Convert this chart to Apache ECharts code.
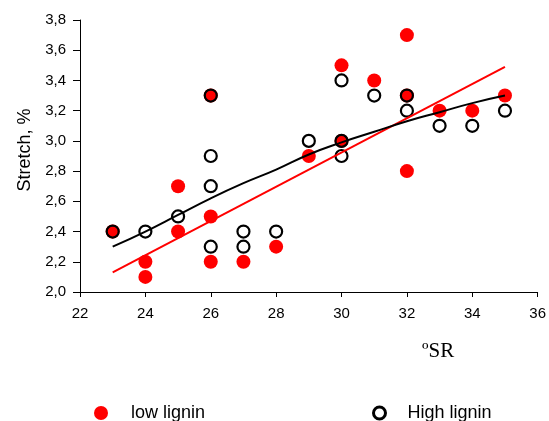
<!DOCTYPE html>
<html><head><meta charset="utf-8">
<script src="https://cdn.jsdelivr.net/npm/echarts@6/dist/echarts.min.js"></script>
<style>html,body{margin:0;padding:0;background:#fff}#c{width:549px;height:421px}</style>
</head><body><div id="c"></div>
<script>
// low lignin points [ºSR, stretch %]
var lowX = [23, 24, 24, 25, 25, 26, 26, 26, 27, 28, 29, 30, 30, 31, 32, 32, 32, 33, 34, 35];
var lowY = [2.4, 2.2, 2.1, 2.7, 2.4, 3.3, 2.5, 2.2, 2.2, 2.3, 2.9, 3.5, 3.0, 3.4, 3.7, 3.3, 2.8, 3.2, 3.2, 3.3];
// high lignin points
var highX = [23, 24, 25, 26, 26, 26, 26, 27, 27, 28, 29, 30, 30, 30, 31, 32, 32, 33, 34, 35];
var highY = [2.4, 2.4, 2.5, 3.3, 2.9, 2.7, 2.3, 2.4, 2.3, 2.4, 3.0, 3.4, 3.0, 2.9, 3.3, 3.3, 3.2, 3.1, 3.1, 3.2];
// trend lines
var lowTrendX = [23, 35];
var lowTrendY = [2.13, 3.49];
var highTrendX = [23, 24, 25, 26, 27, 28, 29, 30, 31, 32, 33, 34, 35];
var highTrendY = [2.30, 2.40, 2.51, 2.62, 2.72, 2.81, 2.91, 2.99, 3.06, 3.13, 3.19, 3.25, 3.30];
// axis ticks
var xMin = 22, xMax = 36, xStep = 2;
var yMin = 2.0, yMax = 3.8, yStep = 0.2;

function zip(a, b) { return a.map(function (v, i) { return [v, b[i]]; }); }

var chart = echarts.init(document.getElementById('c'));
var font = 'Liberation Sans, Arial, sans-serif';
chart.setOption({
  animation: false,
  backgroundColor: '#fff',
  grid: { left: 80, right: 10, top: 20, bottom: 129, containLabel: false },
  xAxis: {
    type: 'value', min: xMin, max: xMax, interval: xStep,
    axisLine: { lineStyle: { color: '#000', width: 1 } },
    axisTick: { show: true, length: 5, lineStyle: { color: '#000' } },
    axisLabel: { color: '#000', fontFamily: font, fontSize: 15, margin: 14 },
    splitLine: { show: false }
  },
  yAxis: {
    type: 'value', min: yMin, max: yMax, interval: yStep,
    name: 'Stretch, %', nameLocation: 'middle', nameGap: 46,
    nameTextStyle: { color: '#000', fontFamily: font, fontSize: 18, padding: [0, 0, 0, 12] },
    axisLine: { show: true, lineStyle: { color: '#000', width: 1 } },
    axisTick: { show: true, length: 7, lineStyle: { color: '#000' } },
    axisLabel: { color: '#000', fontFamily: font, fontSize: 15, margin: 14,
      formatter: function (v) { return v.toFixed(1).replace('.', ','); } },
    splitLine: { show: false }
  },
  legend: [
    { data: ['low lignin'], left: 89, top: 399, itemWidth: 14, itemHeight: 14,
      textStyle: { color: '#000', fontFamily: font, fontSize: 18, padding: [0, 0, 0, 18] } },
    { data: ['High lignin'], left: 367, top: 399, itemWidth: 12, itemHeight: 12,
      itemStyle: { borderWidth: 3 },
      textStyle: { color: '#000', fontFamily: font, fontSize: 18, padding: [0, 0, 0, 17] } }
  ],
  graphic: [
    { type: 'text', left: 422, top: 341,
      style: { text: 'ºSR', fill: '#000', font: '21px "Liberation Serif", "Times New Roman", serif' } }
  ],
  series: [
    { name: 'low lignin', type: 'scatter', data: zip(lowX, lowY), symbol: 'circle', symbolSize: 14,
      itemStyle: { color: '#ff0000', opacity: 1 }, z: 2 },
    { name: 'High lignin', type: 'scatter', data: zip(highX, highY), symbol: 'circle', symbolSize: 12,
      itemStyle: { color: 'rgba(0,0,0,0)', borderColor: '#000', borderWidth: 2.2, opacity: 1 }, z: 3 },
    { name: 'lowTrend', type: 'line', data: zip(lowTrendX, lowTrendY), symbol: 'none',
      lineStyle: { color: '#ff0000', width: 2 }, z: 4, silent: true },
    { name: 'highTrend', type: 'line', data: zip(highTrendX, highTrendY), symbol: 'none', smooth: true,
      lineStyle: { color: '#000', width: 2 }, z: 4, silent: true }
  ]
});
</script></body></html>
